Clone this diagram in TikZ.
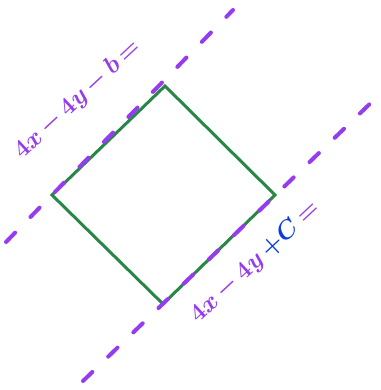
\documentclass[tikz,border=0pt]{standalone}
\usepackage{xcolor}
\definecolor{penpurple}{RGB}{150,60,240}
\definecolor{pengreen}{RGB}{40,135,70}
\definecolor{penblue}{RGB}{10,60,230}
\begin{document}
\begin{tikzpicture}[x=1pt,y=-1pt,
  edge/.style={draw=pengreen,line width=3pt,line join=miter},
  guide/.style={draw=penpurple,line width=4pt,line cap=round,dash pattern=on 13pt off 22pt},
  hand/.style={text=penpurple,font=\fontsize{44}{44}\selectfont\boldmath,inner sep=0pt,rotate=43,anchor=base west}]
\useasboundingbox (0,0) rectangle (380,390);
\fill[white] (0,0) rectangle (380,390);
\coordinate (T) at (165,86);
\coordinate (R) at (275,195);
\coordinate (B) at (163,304);
\coordinate (L) at (52,195);
\coordinate (a1) at (6,242);
\coordinate (a2) at (233,10);
\coordinate (b1) at (83,381);
\coordinate (b2) at (380,94);
\draw[edge] (T) -- (R) -- (B) -- (L) -- cycle;
\draw[guide] (a1) -- (a2);
\draw[guide] (b1) -- (b2);
\node[hand] (eq1) at (22,160) {$4x\,{-}\,4y\,{-}\,b\,{=}$};
\node[hand] (eq2) at (198,324) {$4x\,{-}\,4y\,\textcolor{penblue}{{+}C}\,{=}$};
\end{tikzpicture}
\end{document}
